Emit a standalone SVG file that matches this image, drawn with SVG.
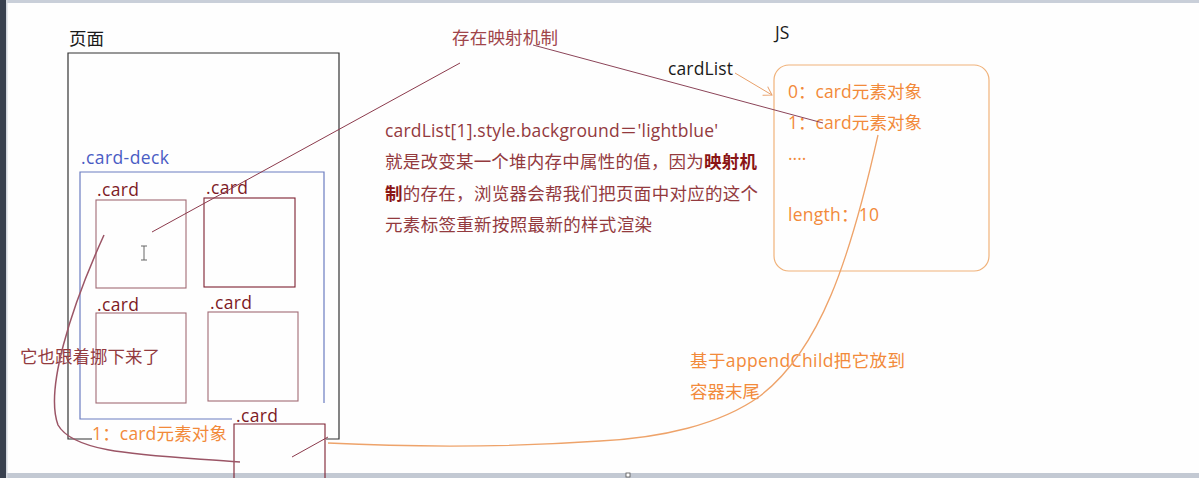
<svg xmlns="http://www.w3.org/2000/svg" width="1199" height="478" viewBox="0 0 1199 478">
<style>
text{font-family:"Open Sans","Noto Sans CJK SC",sans-serif;font-size:17.5px}
.blk{fill:#1a1a1a}
.red{fill:#933a3e}
.bold{font-weight:bold;fill:#8a1515}
.org{fill:#f28a3a}
.blue{fill:#4a5cc4}
.cardlbl{fill:#7d1a25}
.card{fill:none;stroke:#7d2030;stroke-width:1.1}
.card.light{stroke:#a06a74}
.conn{fill:none}
</style>
<defs>
<marker id="chev" markerWidth="12" markerHeight="12" refX="9" refY="6" orient="auto" markerUnits="userSpaceOnUse">
<path d="M1,1 L9,6 L1,11" fill="none" stroke="#e8a06a" stroke-width="1"/>
</marker>
</defs>
<rect x="0" y="0" width="1199" height="478" fill="#fefefe"/>
<rect x="0" y="0" width="1199" height="3" fill="#c9cfd9"/>
<rect x="0" y="473" width="1199" height="5" fill="#c3c9d3"/>
<rect x="0" y="0" width="6" height="478" fill="#39414f"/>
<rect x="6" y="0" width="1.5" height="478" fill="#d3d7de"/>
<rect x="626" y="473" width="4" height="4" fill="#fff" stroke="#555" stroke-width="0.8"/>

<g id="page">
<text class="blk" x="69" y="45">页面</text>
<path d="M92,439 L68,439 L68,53 L339,53 L339,439 L326,439" fill="none" stroke="#333" stroke-width="1.2"/>
</g>

<g id="card-deck">
<text class="blue" x="81" y="164" textLength="88">.card-deck</text>
<path d="M232,419 L80,419 L80,172 L324,172 L324,403" fill="none" stroke="#6b7cc0" stroke-width="1.2"/>
</g>

<g id="card1">
<text class="cardlbl" x="97" y="196" textLength="42">.card</text>
<rect class="card light" x="96" y="200" width="90" height="88"/>
<path d="M141,246 h6 M144,246 v14 M141,260 h6" stroke="#666" stroke-width="1" fill="none"/>
</g>
<g id="card2">
<text class="cardlbl" x="206" y="194" textLength="42">.card</text>
<rect class="card" x="204" y="198" width="91" height="89"/>
</g>
<g id="card3">
<text class="cardlbl" x="97" y="311" textLength="42">.card</text>
<rect class="card light" x="96" y="313" width="90" height="90"/>
</g>
<g id="card4">
<text class="cardlbl" x="210" y="309" textLength="42">.card</text>
<rect class="card light" x="208" y="312" width="90" height="89"/>
</g>
<g id="card5">
<text class="cardlbl" x="236" y="422" textLength="42">.card</text>
<path d="M234,478 L234,424 L325,424 L325,478" class="card"/>
</g>

<g id="label-moved">
<text class="org" x="92" y="440" textLength="135">1：card元素对象</text>
</g>

<g id="label-mapping">
<text class="red" x="452" y="44" style="fill:#a0454a" textLength="106">存在映射机制</text>
</g>

<g id="explanation">
<text class="red" x="385" y="137" textLength="333">cardList[1].style.background＝'lightblue'</text>
<text class="red" x="385" y="168" textLength="372">就是改变某一个堆内存中属性的值，因为<tspan class="bold">映射机</tspan></text>
<text class="red" x="385" y="199.5" textLength="373"><tspan class="bold">制</tspan>的存在，浏览器会帮我们把页面中对应的这个</text>
<text class="red" x="385" y="231" textLength="267">元素标签重新按照最新的样式渲染</text>
</g>

<g id="js">
<text class="blk" x="775" y="39">JS</text>
<text class="blk" x="668" y="75" textLength="65">cardList</text>
<rect x="774" y="65" width="215" height="206" rx="15" fill="none" stroke="#f0b27a" stroke-width="1.2"/>
<text class="org" x="788" y="98" textLength="134">0：card元素对象</text>
<text class="org" x="788" y="129" textLength="134">1：card元素对象</text>
<text class="org" x="788" y="160">....</text>
<text class="org" x="788" y="221" textLength="91">length：10</text>
</g>

<g id="label-append">
<text class="org" x="690" y="367" textLength="215">基于appendChild把它放到</text>
<text class="org" x="690" y="398" textLength="70">容器末尾</text>
</g>

<g id="label-follow">
<text class="red" x="20" y="363" textLength="140">它也跟着挪下来了</text>
</g>

<g id="connectors">
<path class="conn" d="M460,63 L152,232" stroke="#8b3a4c" stroke-width="1"/>
<path class="conn" d="M533,45 L823,123" stroke="#8b4458" stroke-width="1"/>
<path class="conn" d="M735,73 L772,95" stroke="#e8a06a" stroke-width="1" marker-end="url(#chev)"/>
<path class="conn" d="M878,135 C850,260 820,350 760,396 C720,425 660,438 600,441 Q470,450 328,443" stroke="#eea36a" stroke-width="1.3"/>
<path class="conn" d="M104,235 C70,310 45,390 58,425 C75,455 150,455 240,462" stroke="#9b5566" stroke-width="1.5"/>
<path class="conn" d="M292,457 L328,437" stroke="#8b3a4c" stroke-width="1"/>
</g>
</svg>
